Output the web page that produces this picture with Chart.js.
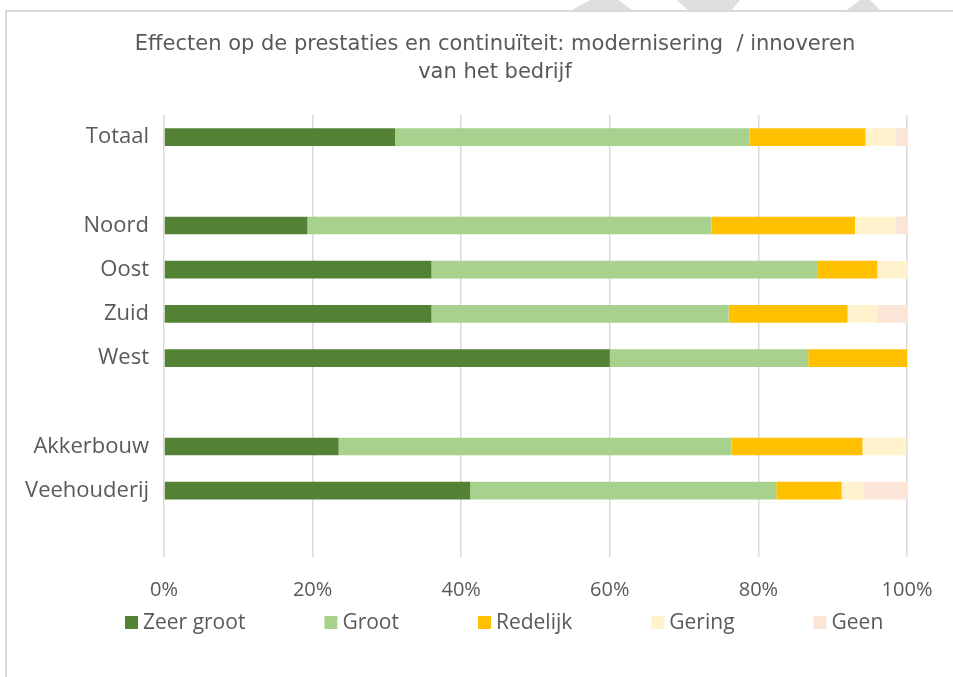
<!DOCTYPE html>
<html>
<head>
<meta charset="utf-8">
<title>Effecten op de prestaties en continuïteit</title>
<script src="https://cdn.jsdelivr.net/npm/chart.js@4/dist/chart.umd.min.js"></script>
<style>
  html, body { margin: 0; padding: 0; background: #fff; overflow: hidden; }
  body { width: 953px; height: 677px; position: relative; }
  .frame {
    position: absolute; left: 5px; top: 10px;
    width: 980px; height: 700px;
    border-top: 2px solid #d9d9d9; border-left: 2px solid #d9d9d9;
  }
  .frame canvas { position: absolute; left: 0; top: 0; }
  .deco { position: absolute; top: 0; height: 10px; background: #dedede; }
</style>
</head>
<body>
<div class="deco" style="left:572px;width:60px;clip-path:polygon(30% 0,77% 0,100% 100%,0 100%)"></div>
<div class="deco" style="left:677px;width:63px;clip-path:polygon(0 0,100% 0,87% 100%,17% 100%)"></div>
<div class="deco" style="left:847px;width:33px;clip-path:polygon(40% 0,70% 0,100% 100%,0 100%)"></div>
<div class="frame">
  <canvas id="chart" width="976" height="690"></canvas>
</div>
<script>
// ---------------- DATA ----------------
const CATEGORIES = ['Totaal', '', 'Noord', 'Oost', 'Zuid', 'West', '', 'Akkerbouw', 'Veehouderij', ''];

const ZEER_GROOT = [31.1, null, 19.3, 36, 36, 60,   null, 23.5, 41.2, null];
const GROOT      = [47.7, null, 54.4, 52, 40, 26.7, null, 52.9, 41.2, null];
const REDELIJK   = [15.6, null, 19.3, 8,  16, 13.3, null, 17.6, 8.8,  null];
const GERING     = [4.1,  null, 5.5,  4,  4,  0,    null, 5.9,  2.9,  null];
const GEEN       = [1.5,  null, 1.5,  0,  4,  0,    null, 0,    5.9,  null];

const X_TICKS = [0, 20, 40, 60, 80, 100];
const TITLE = ['Effecten op de prestaties en continuïteit: modernisering  / innoveren', 'van het bedrijf'];

const SERIES = [
  { label: 'Zeer groot', data: ZEER_GROOT, color: '#548235' },
  { label: 'Groot',      data: GROOT,      color: '#A9D18E' },
  { label: 'Redelijk',   data: REDELIJK,   color: '#FFC000' },
  { label: 'Gering',     data: GERING,     color: '#FFF2CC' },
  { label: 'Geen',       data: GEEN,       color: '#FBE5D6' }
];

const TEXT_COLOR = '#595959';
const GRID_COLOR = '#d9d9d9';
const LABEL_FONT = '"Open Sans", "Noto Sans", sans-serif';

// ---------------- Legend (drawn like Excel: equal gaps) ----------------
const excelLegend = {
  id: 'excelLegend',
  // centre the title on the whole chart frame, not only on the padded area
  afterLayout(chart) {
    const t = chart.titleBlock;
    if (t) { t.left = 0; t.right = chart.width; t.width = chart.width; }
  },
  afterDraw(chart) {
    const ctx = chart.ctx;
    const box = 13, gap = 5, spacing = 79;
    let x = 118;
    const baseline = 617;
    ctx.save();
    ctx.font = '21px ' + LABEL_FONT;
    ctx.textBaseline = 'alphabetic';
    ctx.textAlign = 'left';
    chart.data.datasets.forEach(ds => {
      ctx.fillStyle = ds.backgroundColor;
      ctx.fillRect(x, baseline - box, box, box);
      ctx.fillStyle = TEXT_COLOR;
      ctx.fillText(ds.label, x + box + gap, baseline);
      x += box + gap + ctx.measureText(ds.label).width + spacing;
    });
    ctx.restore();
  }
};

// ---------------- Chart ----------------
const ctx = document.getElementById('chart').getContext('2d');

new Chart(ctx, {
  type: 'bar',
  data: {
    labels: CATEGORIES,
    datasets: SERIES.map(s => ({
      label: s.label,
      data: s.data,
      backgroundColor: s.color,
      borderWidth: 0,
      barPercentage: 0.4,
      categoryPercentage: 1
    }))
  },
  options: {
    indexAxis: 'y',
    responsive: false,
    animation: false,
    layout: { padding: { left: 0, right: 76, top: 0, bottom: 85 } },
    plugins: {
      legend: { display: false },
      tooltip: { enabled: false },
      title: {
        display: true,
        text: TITLE,
        color: TEXT_COLOR,
        font: { family: '"DejaVu Sans", sans-serif', size: 21, weight: 'normal', lineHeight: 1.3 },
        padding: { top: 19.3, bottom: 29.1 }
      }
    },
    scales: {
      x: {
        stacked: true,
        min: 0,
        max: 100,
        afterBuildTicks: axis => { axis.ticks = X_TICKS.map(v => ({ value: v })); },
        afterFit: axis => { axis.height = 60; },
        ticks: {
          color: TEXT_COLOR,
          font: { family: LABEL_FONT, size: 20 },
          padding: 21,
          maxRotation: 0,
          callback: v => v + '%'
        },
        grid: { color: GRID_COLOR, lineWidth: 1.5, drawTicks: false },
        border: { display: false }
      },
      y: {
        stacked: true,
        afterFit: axis => { axis.width = 157; },
        ticks: {
          color: TEXT_COLOR,
          font: { family: LABEL_FONT, size: 22 },
          padding: 15,
          autoSkip: false
        },
        grid: { display: false, drawTicks: false },
        border: { display: false }
      }
    }
  },
  plugins: [excelLegend]
});
</script>
</body>
</html>
